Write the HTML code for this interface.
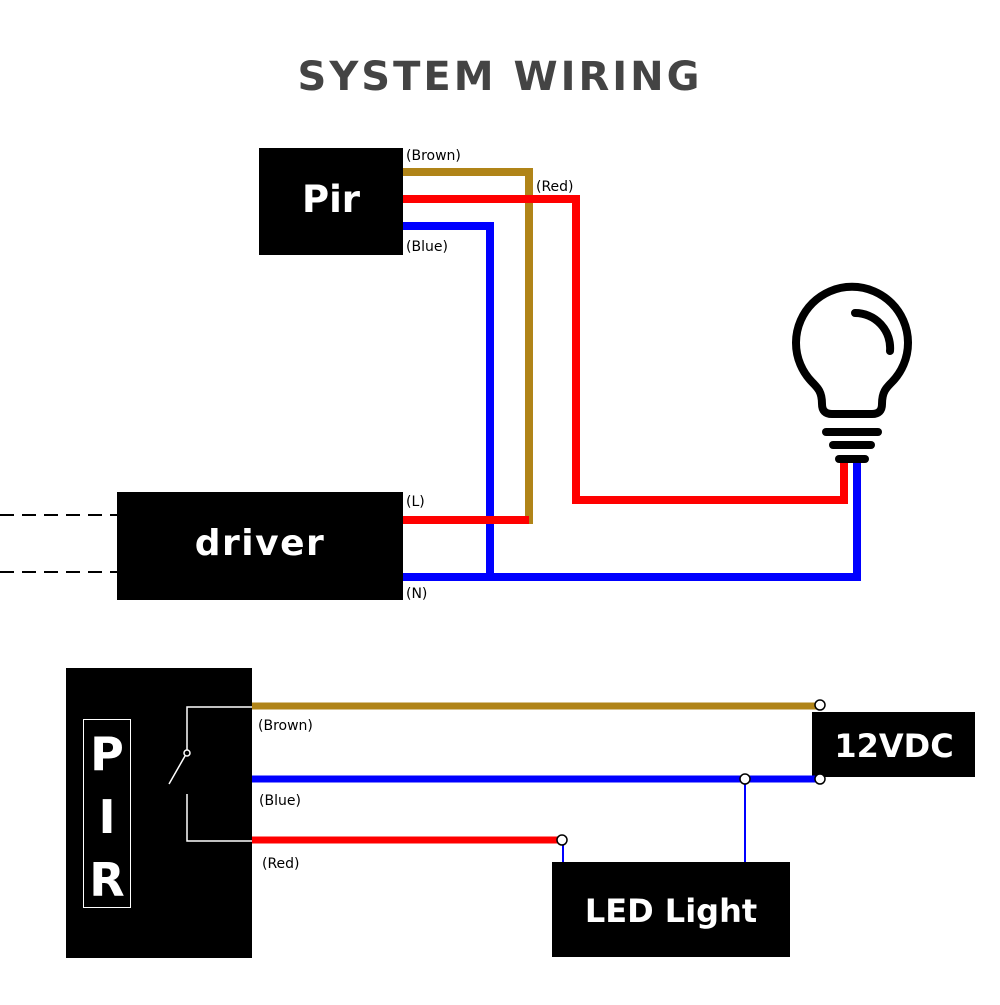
<!DOCTYPE html>
<html><head><style>
body{margin:0;background:#fff}
svg text{font-family:"DejaVu Sans","Liberation Sans",sans-serif}
</style></head><body>
<svg width="1000" height="1000" viewBox="0 0 1000 1000" xmlns="http://www.w3.org/2000/svg">
<text x="500" y="90" text-anchor="middle" font-size="40" font-weight="bold" fill="#444" letter-spacing="3">SYSTEM WIRING</text>
<!-- top -->
<rect x="259" y="148" width="144" height="107" fill="#000"/>
<text x="331" y="212" text-anchor="middle" font-size="37" font-weight="bold" fill="#fff">Pir</text>
<rect x="117" y="492" width="286" height="108" fill="#000"/>
<text x="260" y="555" text-anchor="middle" font-size="36" font-weight="bold" fill="#fff" letter-spacing="1.5">driver</text>
<g stroke="#000" stroke-width="2" stroke-dasharray="14,8"><line x1="0" y1="515" x2="117" y2="515"/><line x1="0" y1="572" x2="117" y2="572"/></g>
<g fill="none" stroke-width="8">
<polyline points="403,226 490,226 490,577" stroke="#0000ff"/>
<polyline points="403,577 857,577 857,462" stroke="#0000ff"/>
<polyline points="403,172 529,172 529,524" stroke="#b08418"/>
<polyline points="403,199 576,199 576,500 844,500 844,462" stroke="#ff0000"/>
<polyline points="403,520 529,520" stroke="#ff0000"/>
</g>
<g font-size="14" fill="#000">
<text x="406" y="160">(Brown)</text>
<text x="536" y="191">(Red)</text>
<text x="406" y="251">(Blue)</text>
<text x="406" y="506">(L)</text>
<text x="406" y="598">(N)</text>
</g>
<!-- bulb -->
<g fill="none" stroke="#000" stroke-width="8" stroke-linecap="round">
<path d="M822,404 C822,392 818,388 812,382 A56,56 0 1 1 892,382 C886,388 882,392 882,404 Q882,414 872,414 L832,414 Q822,414 822,404 Z"/>
<path d="M855,313 A35,35 0 0 1 890,351"/>
<line x1="826" y1="432" x2="878" y2="432"/>
<line x1="833" y1="445" x2="871" y2="445"/>
<line x1="839" y1="459" x2="865" y2="459"/>
</g>
<!-- bottom -->
<rect x="66" y="668" width="186" height="290" fill="#000"/>
<rect x="83.5" y="719.5" width="47" height="188" fill="none" stroke="#fff" stroke-width="1"/>
<g font-size="46" font-weight="bold" fill="#fff" text-anchor="middle">
<text x="107" y="770">P</text><text x="107" y="833">I</text><text x="107" y="896">R</text>
</g>
<g fill="none" stroke="#fff" stroke-width="1.5">
<polyline points="252,707 187,707 187,750"/>
<line x1="185" y1="756" x2="169" y2="784"/>
<polyline points="187,794 187,841 252,841"/>
<circle cx="187" cy="753" r="3"/>
</g>
<rect x="812" y="712" width="163" height="65" fill="#000"/>
<text x="894" y="757" text-anchor="middle" font-size="32" font-weight="bold" fill="#fff">12VDC</text>
<rect x="552" y="862" width="238" height="95" fill="#000"/>
<text x="671" y="922" text-anchor="middle" font-size="32" font-weight="bold" fill="#fff">LED Light</text>
<g stroke-width="2"><line x1="745" y1="779" x2="745" y2="862" stroke="#0000ff"/><line x1="563" y1="840" x2="563" y2="862" stroke="#0000ff"/></g>
<g stroke-width="7">
<line x1="252" y1="706" x2="820" y2="706" stroke="#b08418"/>
<line x1="252" y1="779" x2="820" y2="779" stroke="#0000ff"/>
<line x1="252" y1="840" x2="562" y2="840" stroke="#ff0000"/>
</g>
<g fill="#fff" stroke="#000" stroke-width="1.5">
<circle cx="820" cy="705" r="5"/><circle cx="820" cy="779" r="5"/><circle cx="745" cy="779" r="5"/><circle cx="562" cy="840" r="5"/>
</g>
<g font-size="14" fill="#000">
<text x="258" y="730">(Brown)</text>
<text x="259" y="805">(Blue)</text>
<text x="262" y="868">(Red)</text>
</g>
</svg>
</body></html>
